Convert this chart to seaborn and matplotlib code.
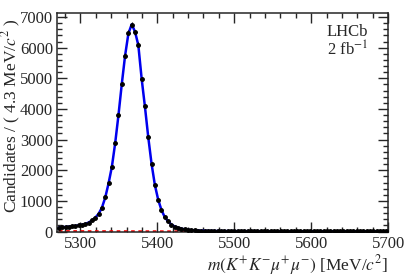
import matplotlib
matplotlib.use("Agg")
import matplotlib.pyplot as plt
import seaborn as sns
import numpy as np
import pandas as pd
from matplotlib.ticker import MultipleLocator

# 100 bins of 4.3 MeV/c^2 from 5270 to 5700
mass_lo = 5270.0
bin_width = 4.3
counts = [
    130, 140, 150, 160, 175, 185, 200, 220, 250, 290,
    370, 450, 570, 780, 1120, 1580, 2100, 2880, 3810, 4820,
    5740, 6480, 6750, 6500, 6090, 4980, 4080, 3080, 2200, 1520,
    1040, 690, 465, 340, 230, 165, 120, 90, 70, 55,
    45, 38, 32, 28, 25, 22, 20, 18, 17, 16,
    15, 15, 14, 14, 13, 13, 13, 12, 12, 12,
    12, 11, 11, 11, 11, 11, 10, 10, 10, 10,
    10, 10, 10, 9, 9, 9, 9, 9, 9, 9,
    9, 9, 8, 8, 8, 8, 8, 8, 8, 8,
    8, 8, 8, 8, 8, 8, 8, 8, 8, 8,
]
fit = [
    135, 142, 150, 160, 172, 186, 203, 224, 252, 295,
    365, 455, 580, 780, 1110, 1570, 2110, 2880, 3800, 4810,
    5740, 6460, 6760, 6520, 6080, 4990, 4070, 3080, 2210, 1520,
    1040, 700, 470, 330, 230, 165, 122, 92, 72, 57,
    47, 39, 33, 29, 25, 22, 20, 18, 17, 16,
    15, 15, 14, 14, 13, 13, 13, 12, 12, 12,
    12, 11, 11, 11, 11, 11, 10, 10, 10, 10,
    10, 10, 10, 9, 9, 9, 9, 9, 9, 9,
    9, 9, 8, 8, 8, 8, 8, 8, 8, 8,
    8, 8, 8, 8, 8, 8, 8, 8, 8, 8,
]
background = [
    20, 20, 19, 19, 19, 18, 18, 18, 17, 17,
    17, 17, 16, 16, 16, 16, 15, 15, 15, 15,
    15, 14, 14, 14, 14, 14, 13, 13, 13, 13,
    13, 12, 12, 12, 12, 12, 12, 11, 11, 11,
    11, 11, 11, 10, 10, 10, 10, 10, 10, 10,
    9, 9, 9, 9, 9, 9, 9, 9, 9, 8,
    8, 8, 8, 8, 8, 8, 8, 8, 8, 8,
    8, 8, 7, 7, 7, 7, 7, 7, 7, 7,
    7, 7, 7, 7, 7, 7, 7, 7, 7, 7,
    7, 7, 7, 7, 7, 7, 7, 7, 7, 7,
]

centers = mass_lo + bin_width * (np.arange(len(counts)) + 0.5)
df = pd.DataFrame({'mass': centers, 'counts': counts, 'fit': fit, 'bkg': background})

sns.set_style("ticks")
plt.rcParams['font.family'] = ['Liberation Serif', 'DejaVu Serif']
plt.rcParams['mathtext.fontset'] = 'stix'

fig = plt.figure(figsize=(4.09, 2.77), dpi=100)
ax = fig.add_axes([0.140, 0.164, 0.809, 0.788])

sns.lineplot(data=df, x='mass', y='bkg', ax=ax, color='red', lw=1.3, linestyle=(0, (2, 2)))
sns.lineplot(data=df, x='mass', y='fit', ax=ax, color='#0000ee', lw=1.8)
ax.errorbar(df['mass'], df['counts'], yerr=np.sqrt(df['counts']), xerr=bin_width / 2,
            fmt='o', ms=2.5, color='black', elinewidth=0.8, capsize=0, zorder=5)

ax.set_xlim(5270, 5700)
ax.set_ylim(0, 7120)
ax.xaxis.set_major_locator(MultipleLocator(100))
ax.xaxis.set_minor_locator(MultipleLocator(20))
ax.yaxis.set_major_locator(MultipleLocator(1000))
ax.yaxis.set_minor_locator(MultipleLocator(200))
ax.tick_params(which='both', direction='in', top=True, right=True, width=1, labelsize=12)
ax.tick_params(which='major', length=7, pad=3)
ax.tick_params(which='minor', length=3.5)
for s in ax.spines.values():
    s.set_linewidth(1.1)

ax.set_xlabel(r"$m(K^{+}K^{-}\mu^{+}\mu^{-})$ [MeV/$c^{2}$]", fontsize=12.5, loc='right', labelpad=1)
ax.set_ylabel(r"Candidates / ( 4.3 MeV/$c^{2}$ )", fontsize=12.5, loc='top')
ax.yaxis.set_label_coords(-0.103, 0.975)
ax.text(0.94, 0.95, "LHCb\n" + r"2 fb$^{-1}$", transform=ax.transAxes, ha='right', va='top',
        fontsize=12, linespacing=1.0)

fig.savefig("out.png", dpi=100)
